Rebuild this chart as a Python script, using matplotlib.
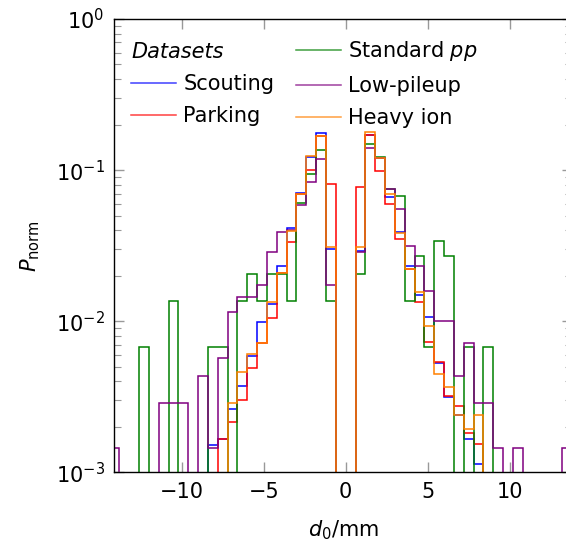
import numpy as np
import matplotlib
matplotlib.use("Agg")
import matplotlib.pyplot as plt
from matplotlib.lines import Line2D

plt.rcParams['font.family'] = ['DejaVu Sans']
plt.rcParams['mathtext.fontset'] = 'dejavusans'

# bin edges: -15 .. 15 mm, 50 bins of 0.6 mm
edges = np.linspace(-15, 15, 51)

def full(d):
    v = np.zeros(50)
    for k, val in d.items():
        v[k] = val
    return v

scouting = full({11: 1.51e-3, 12: 1.67e-3, 13: 2.64e-3, 14: 3.73e-3, 15: 5.9e-3, 16: 9.89e-3,
                 17: 0.0130, 18: 0.0232, 19: 0.0411, 20: 0.0702, 21: 0.123, 22: 0.175, 23: 0.0300,
                 26: 0.029, 27: 0.172, 28: 0.120, 29: 0.0666, 30: 0.039, 31: 0.0232, 32: 0.0150,
                 33: 0.0107, 34: 5.32e-3, 35: 3.15e-3, 36: 2.4e-3, 37: 1.67e-3, 38: 1.13e-3})

parking = full({12: 1.65e-3, 13: 2.15e-3, 14: 3.03e-3, 15: 4.93e-3, 16: 7.2e-3, 17: 0.0105,
                18: 0.0207, 19: 0.0336, 20: 0.069, 21: 0.100, 22: 0.168, 23: 0.081,
                26: 0.0776, 27: 0.171, 28: 0.0985, 29: 0.0593, 30: 0.0351, 31: 0.022, 32: 0.0134,
                33: 7.29e-3, 34: 5.36e-3, 35: 3.2e-3, 36: 2.76e-3, 37: 1.83e-3, 38: 1.55e-3})

standard_pp = full({4: 6.78e-3, 7: 0.01356, 11: 6.78e-3, 12: 6.78e-3, 14: 0.01356, 15: 0.0204,
                    16: 0.01356, 17: 0.0204, 18: 0.0204, 19: 0.01356, 20: 0.061, 21: 0.0949,
                    22: 0.1356, 23: 0.01356, 26: 0.0204, 27: 0.149, 28: 0.122, 29: 0.0746,
                    30: 0.0678, 31: 0.01356, 32: 0.0271, 33: 6.78e-3, 34: 0.0339, 35: 0.0271,
                    37: 6.78e-3, 39: 6.78e-3})

low_pileup = full({1: 1.44e-3, 6: 2.88e-3, 7: 2.88e-3, 8: 2.88e-3, 10: 4.32e-3, 11: 1.44e-3,
                   12: 5.74e-3, 13: 0.01153, 14: 0.01436, 15: 0.01436, 16: 0.0173, 17: 0.0288,
                   18: 0.0390, 19: 0.040, 20: 0.059, 21: 0.0833, 22: 0.1177, 23: 0.0174,
                   26: 0.0286, 27: 0.140, 28: 0.120, 29: 0.0745, 30: 0.0549, 31: 0.0315,
                   32: 0.0231, 33: 0.0159, 34: 0.0101, 35: 0.0101, 36: 4.32e-3, 37: 7.18e-3,
                   38: 2.88e-3, 39: 2.88e-3, 40: 1.44e-3, 42: 1.44e-3, 47: 1.44e-3})

heavy_ion = full({13: 2.88e-3, 14: 4.62e-3, 15: 6.04e-3, 16: 7.22e-3, 17: 0.0134, 18: 0.0207,
                  19: 0.0395, 20: 0.0694, 21: 0.124, 22: 0.169, 23: 0.031,
                  26: 0.031, 27: 0.178, 28: 0.121, 29: 0.069, 30: 0.0382, 31: 0.0223, 32: 0.0156,
                  33: 9.27e-3, 34: 4.5e-3, 35: 3.67e-3, 36: 2.41e-3, 37: 1.92e-3, 38: 2.41e-3})

series = [("Scouting", scouting, "#0000ff"),
          ("Parking", parking, "#ff0000"),
          ("Standard $pp$", standard_pp, "#008000"),
          ("Low-pileup", low_pileup, "#800080"),
          ("Heavy ion", heavy_ion, "#ff8000")]

W, H = 566, 549
fig = plt.figure(figsize=(W / 100, H / 100), dpi=100)
x0, x1, ytop, ybot = 114.3, 572.0, 19.0, 472.3
ax = fig.add_axes([x0 / W, 1 - ybot / H, (x1 - x0) / W, (ybot - ytop) / H])

for name, vals, col in series:
    v = np.where(vals > 0, vals, 1e-12)
    ax.stairs(v, edges, baseline=None, color=col, lw=1.1, label=name)

ax.set_yscale('log')
ax.set_ylim(1e-3, 1)
px_per_unit = 16.4
x_zero = 345.7
ax.set_xlim((x0 - x_zero) / px_per_unit, (x1 - x_zero) / px_per_unit)
ax.set_xticks([-10, -5, 0, 5, 10])
ax.set_xticklabels(["\u221210", "\u22125", "0", "5", "10"])

ax.tick_params(which='both', direction='in', top=True, right=True, color='#999999',
               labelsize=15, labelcolor='black')
ax.tick_params(which='major', length=7, width=1.0, pad=7)
ax.tick_params(which='minor', length=5, width=0.8)
ax.tick_params(axis='x', which='minor', bottom=False, top=False)
for s in ax.spines.values():
    s.set_linewidth(1.0)

ax.set_xlabel("$d_0$/mm", fontsize=15, labelpad=12)
ax.set_ylabel("$P_{\\mathrm{norm}}$", fontsize=15, labelpad=10)

handles = [Line2D([], [], color='none')] + [Line2D([], [], color=c, lw=1.1, alpha=0.75)
                                            for _, _, c in series]
labels = [" "] + [n for n, _, _ in series]
leg = ax.legend(handles, labels, ncol=2, loc='upper left', frameon=False, fontsize=15,
                bbox_to_anchor=(0.0, 0.992), handlelength=2.17, handletextpad=0.34,
                columnspacing=1.05, labelspacing=0.6, borderaxespad=0.4)
fig.text(131 / W, 1 - 51.7 / H, "Datasets", fontsize=15, style='italic', va='center', ha='left')

fig.savefig("out.png", dpi=100)
